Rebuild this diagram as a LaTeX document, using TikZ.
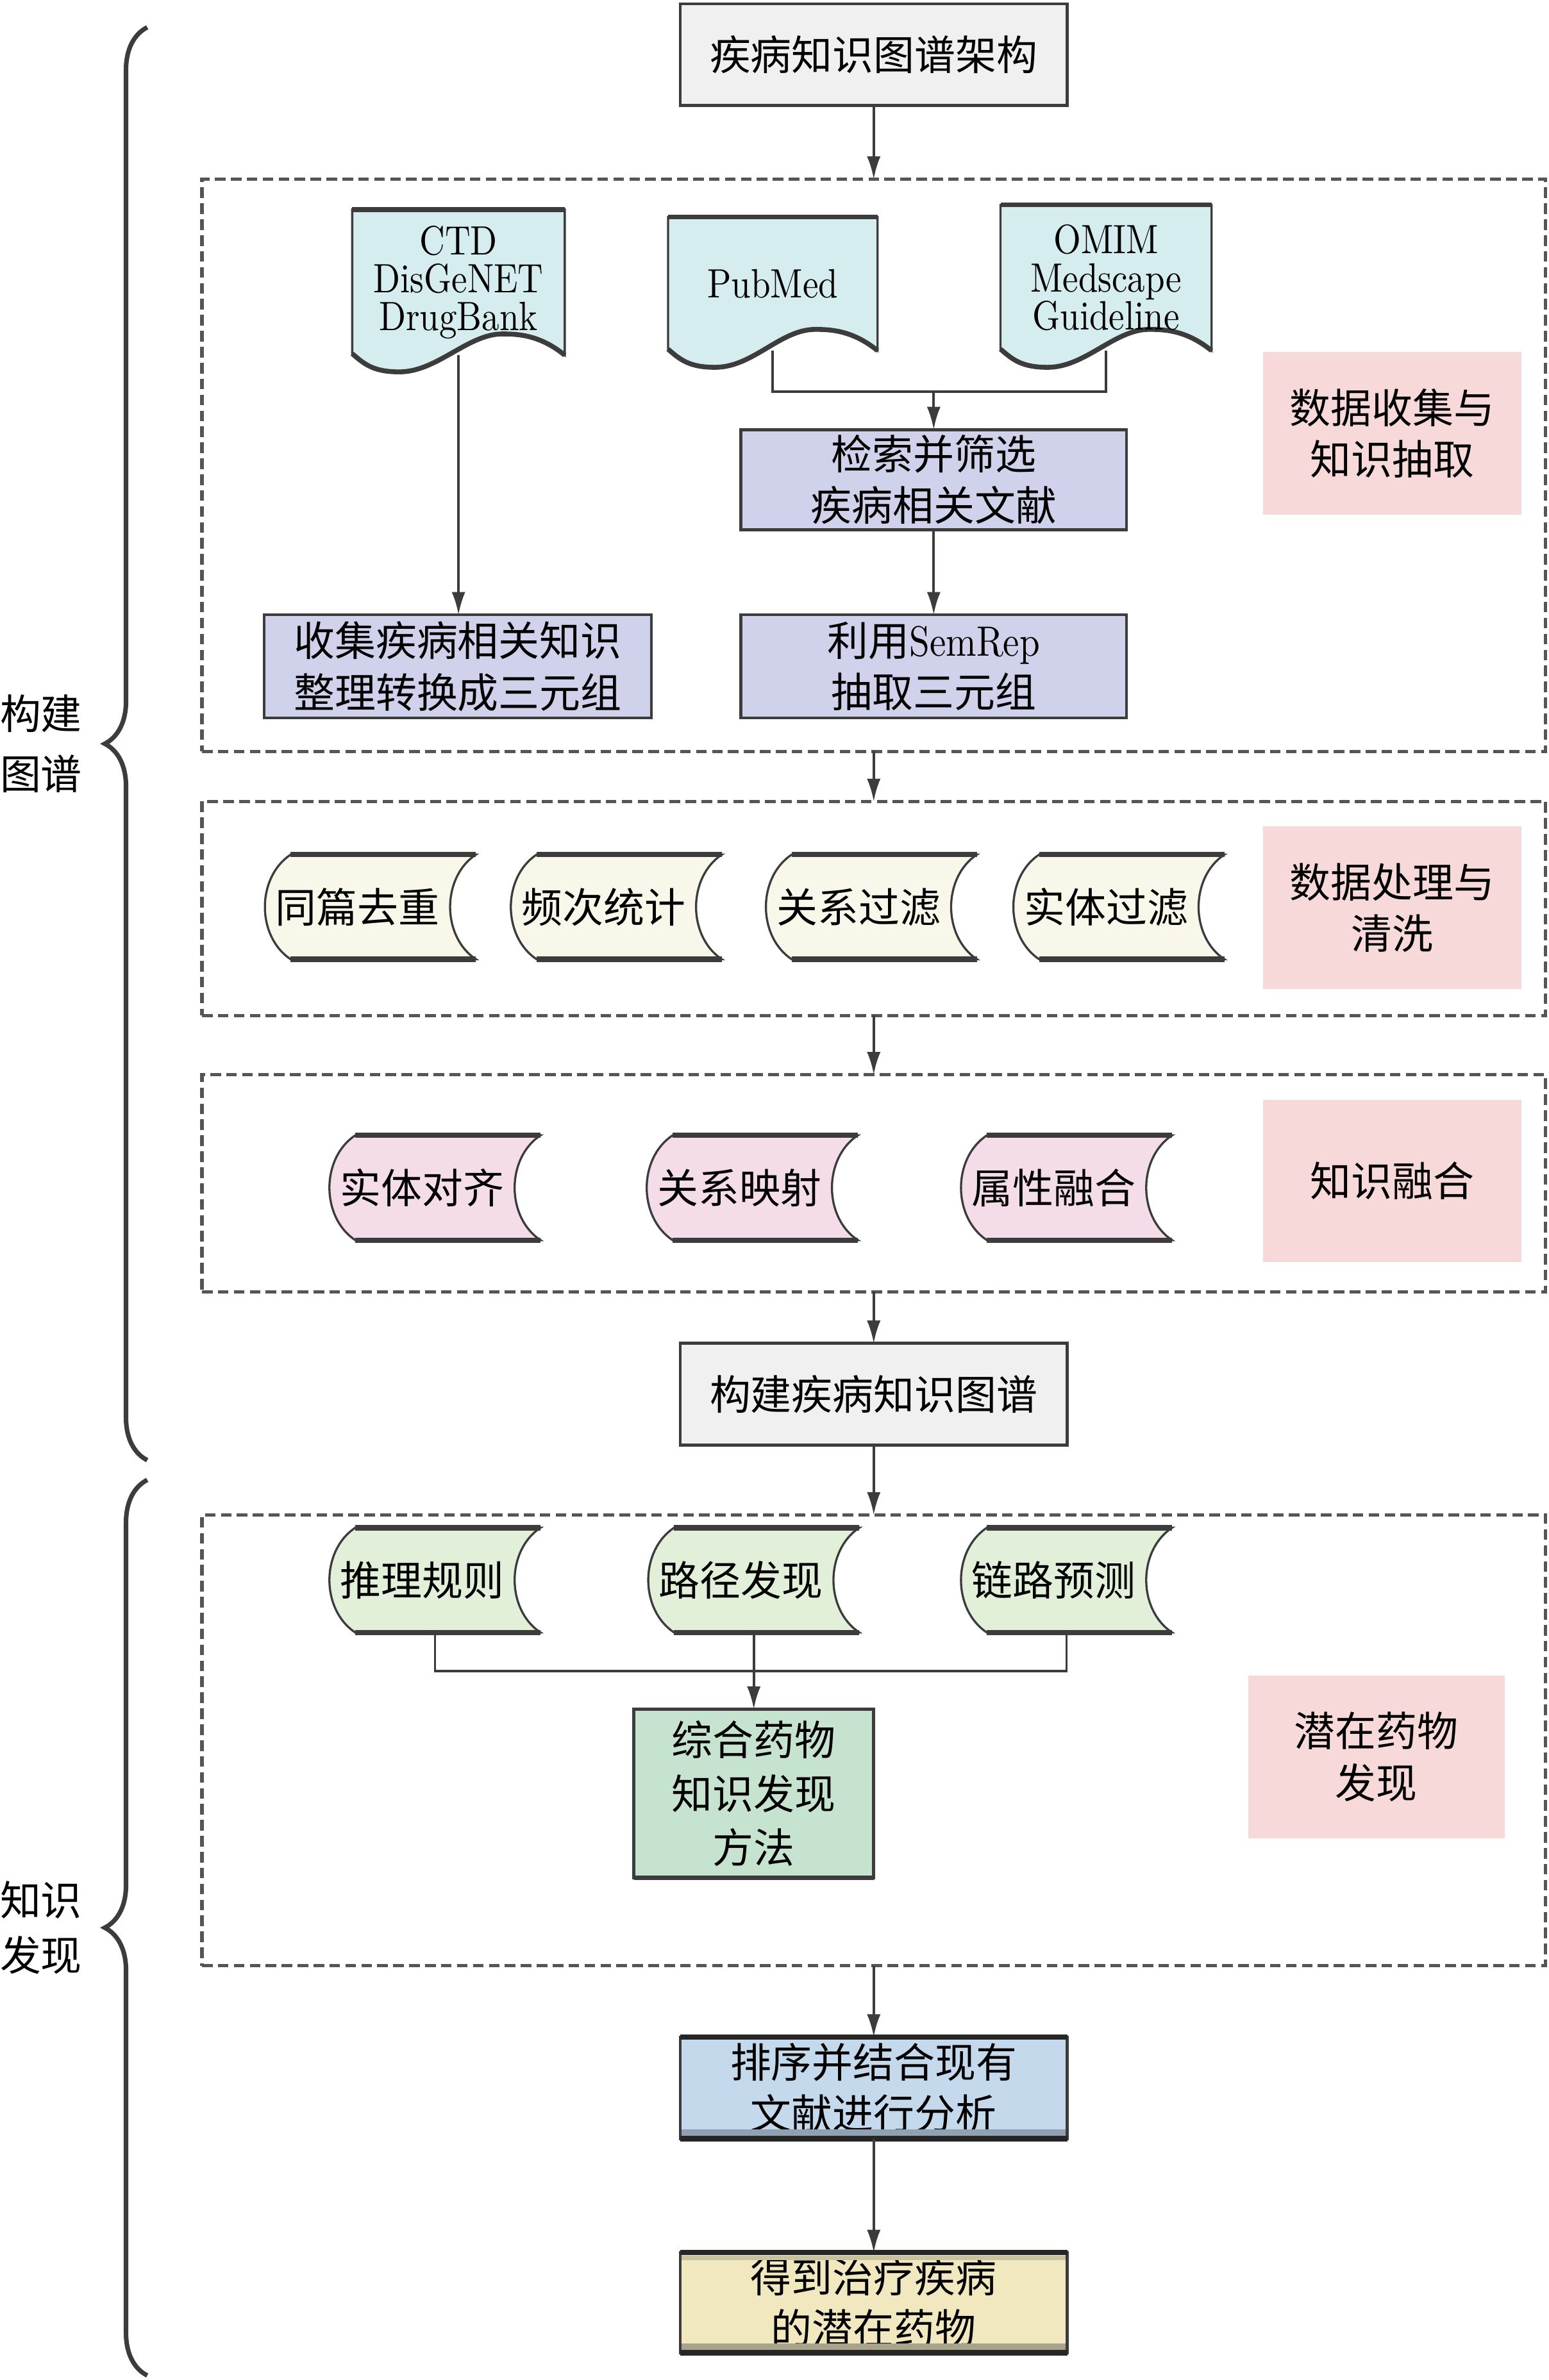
\documentclass[tikz,border=0pt]{standalone}
\usepackage{fontspec}
\newfontfamily\cjk{Noto Sans CJK SC}
\newfontfamily\latf[Extension=.otf, FakeStretch=0.86]{lmroman10-regular}
\usetikzlibrary{arrows.meta,calc,backgrounds,decorations.pathreplacing}
\definecolor{linec}{HTML}{3C3C3C}
\definecolor{framec}{HTML}{555555}
\definecolor{grayf}{HTML}{F0F0F0}
\definecolor{docf}{HTML}{D6EDF0}
\definecolor{lavf}{HTML}{D0D1EB}
\definecolor{pinkl}{HTML}{F7D9DA}
\definecolor{yelsd}{HTML}{F9F7E9}
\definecolor{pinksd}{HTML}{F4DCE8}
\definecolor{greensd}{HTML}{E2EFD9}
\definecolor{methf}{HTML}{C6E3D0}
\definecolor{bluef}{HTML}{C4D9EC}
\definecolor{resf}{HTML}{F1E8BF}
\definecolor{bandblue}{HTML}{8FA1B2}
\definecolor{bandyel}{HTML}{A8A48C}
\definecolor{bandyeltop}{HTML}{C9C2A2}
\newcommand\sdshape[2]{%
  \filldraw[fill=#2, draw=linec, line width=1.4pt]
   ($(#1.north west)+(17,0)$) -- ($(#1.north east)+(17,0)$)
   .. controls ($(#1.north east)+(-5.7,15)$) and ($(#1.south east)+(-5.7,-15)$) .. ($(#1.south east)+(17,0)$)
   -- ($(#1.south west)+(17,0)$)
   .. controls ($(#1.south west)+(-5.7,-15)$) and ($(#1.north west)+(-5.7,15)$) .. ($(#1.north west)+(17,0)$) -- cycle;
  \draw[line width=3.5pt, draw=linec] ($(#1.north west)+(17,0)$) -- ($(#1.north east)+(17,0)$);
  \draw[line width=3.5pt, draw=linec] ($(#1.south west)+(17,0)$) -- ($(#1.south east)+(17,0)$);
}
\newcommand\docshape[1]{%
  \filldraw[fill=docf, draw=linec, line width=1.4pt]
   (#1.north west) -- (#1.north east) -- (#1.south east)
   .. controls ($(#1.south east)+(-16,-13)$) and ($(#1.south east)+(-30,-14)$) .. ($(#1.south east)+(-41,-14)$)
   .. controls ($(#1.south east)+(-64,-14)$) and ($(#1.south west)+(56,11)$) .. ($(#1.south west)+(31,11)$)
   .. controls ($(#1.south west)+(14,11)$) and ($(#1.south west)+(8,6)$) .. ($(#1.south west)+(0,-1)$)
   -- cycle;
  \draw[line width=3.2pt, draw=linec] (#1.north west) -- (#1.north east);
  \draw[line width=3.2pt, draw=linec] (#1.south east)
   .. controls ($(#1.south east)+(-16,-13)$) and ($(#1.south east)+(-30,-14)$) .. ($(#1.south east)+(-41,-14)$)
   .. controls ($(#1.south east)+(-64,-14)$) and ($(#1.south west)+(56,11)$) .. ($(#1.south west)+(31,11)$)
   .. controls ($(#1.south west)+(14,11)$) and ($(#1.south west)+(8,6)$) .. ($(#1.south west)+(0,-1)$);
}
\begin{document}
\begin{tikzpicture}[x=1pt,y=-1pt,
  every node/.style={inner sep=0pt, outer sep=0pt},
  cn/.style={font=\cjk\fontsize{27}{34}\selectfont, align=center, text=black},
  box/.style={cn, draw=linec, line width=2pt, minimum width=255pt, minimum height=67pt},
  frame/.style={draw=framec, line width=2.2pt, dash pattern=on 7pt off 3.5pt, minimum width=885pt},
  lab/.style={cn, fill=pinkl, minimum width=170pt, minimum height=107pt},
  sd/.style={cn, minimum width=122pt, minimum height=69pt},
  docn/.style={font=\latf\fontsize{27}{25}\selectfont, align=center, minimum width=140pt, minimum height=96pt},
  arr/.style={draw=linec, line width=1.6pt, -{Latex[length=15pt,width=9pt]}},
  ln/.style={draw=linec, line width=1.6pt},
  br/.style={draw=linec, line width=3pt, decorate, decoration={brace, amplitude=28pt, aspect=0.5}}
]
\useasboundingbox (0,0) rectangle (1020,1568);

% top box
\node[box, fill=grayf] (top) at (575.5,36) {疾病知识图谱架构};

% frame 1
\node[frame] (f1) at (575.5,306.5) [minimum height=377pt] {};
\node[docn] (ctd) at (302,186) {CTD\\DisGeNET\\DrugBank};
\node[docn, minimum width=138pt, minimum height=88pt] (pub) at (509,187) {PubMed};
\node[docn, minimum width=139pt] (omim) at (728.5,183) {OMIM\\Medscape\\Guideline};
\node[box, fill=lavf, minimum width=254pt, minimum height=66pt] (search) at (615,316) {检索并筛选\\疾病相关文献};
\node[box, fill=lavf, minimum width=254pt, minimum height=68pt] (semrep) at (615,439) {利用{\latf\fontsize{28}{34}\selectfont SemRep}\\抽取三元组};
\node[box, fill=lavf, minimum height=68pt] (collect) at (301.5,439) {收集疾病相关知识\\整理转换成三元组};
\node[lab] (l1) at (917,285.5) {数据收集与\\知识抽取};

% frame 2
\node[frame] (f2) at (575.5,598.5) [minimum height=141pt] {};
\node[sd] (s1) at (235.5,597.5) {同篇去重};
\node[sd] (s2) at (397.5,597.5) {频次统计};
\node[sd] (s3) at (565.5,597.5) {关系过滤};
\node[sd] (s4) at (728.5,597.5) {实体过滤};
\node[lab] (l2) at (917,598) {数据处理与\\清洗};

% frame 3
\node[frame] (f3) at (575.5,779.5) [minimum height=143pt] {};
\node[sd] (p1) at (278,782.5) {实体对齐};
\node[sd] (p2) at (487,782.5) {关系映射};
\node[sd] (p3) at (694,782.5) {属性融合};
\node[lab] (l3) at (917,778) {知识融合};

% build box
\node[box, fill=grayf] (build) at (575.5,918.5) {构建疾病知识图谱};

% frame 4
\node[frame] (f4) at (575.5,1146.5) [minimum height=297pt] {};
\node[sd] (g1) at (278,1041) {推理规则};
\node[sd] (g2) at (488,1041) {路径发现};
\node[sd] (g3) at (694,1041) {链路预测};
\node[box, fill=methf, minimum width=158pt, minimum height=111pt, font=\cjk\fontsize{27}{35.5}\selectfont] (method) at (496.5,1181.5) {综合药物\\知识发现\\方法};
\node[lab, minimum width=169pt] (l4) at (906.5,1157.5) {潜在药物\\发现};

% bottom boxes
\node[box, fill=bluef] (sort) at (575.5,1375.5) {排序并结合现有\\文献进行分析};
\node[box, fill=resf, minimum height=66pt] (result) at (575.5,1517) {得到治疗疾病\\的潜在药物};

% side labels
\node[cn, font=\cjk\fontsize{27}{40}\selectfont] (lab1) at (27,490) {构建\\图谱};
\node[cn, font=\cjk\fontsize{27}{36}\selectfont] (lab2) at (27,1270) {知识\\发现};

% braces
\coordinate (b1a) at (97,962);
\coordinate (b1b) at (97,18);
\coordinate (b2a) at (97,1565);
\coordinate (b2b) at (97,975);
\draw[br] (b1a) -- (b1b);
\draw[br] (b2a) -- (b2b);

% shapes on background
\begin{pgfonlayer}{background}
\docshape{ctd}
\docshape{pub}
\docshape{omim}
\sdshape{s1}{yelsd}
\sdshape{s2}{yelsd}
\sdshape{s3}{yelsd}
\sdshape{s4}{yelsd}
\sdshape{p1}{pinksd}
\sdshape{p2}{pinksd}
\sdshape{p3}{pinksd}
\sdshape{g1}{greensd}
\sdshape{g2}{greensd}
\sdshape{g3}{greensd}
\end{pgfonlayer}

% extra edge bands
\draw[line width=3.5pt, draw=black!85] (sort.north west) -- (sort.north east);
\draw[line width=3.5pt, draw=black!85] (sort.south west) -- (sort.south east);
\fill[bandblue] ($(sort.south west)+(1,-6)$) rectangle ($(sort.south east)+(-1,-2)$);
\draw[line width=3.5pt, draw=black!85] (result.north west) -- (result.north east);
\draw[line width=3.5pt, draw=black!85] (result.south west) -- (result.south east);
\fill[bandyel] ($(result.south west)+(1,-6)$) rectangle ($(result.south east)+(-1,-2)$);
\fill[bandyeltop] ($(result.north west)+(1,2)$) rectangle ($(result.north east)+(-1,5)$);
\draw[line width=3pt, draw=linec] (method.south west) -- (method.south east);

% connectors
\draw[arr] (top.south) -- (f1.north);
\draw[arr] (ctd.south) -- (ctd.south |- collect.north);
\coordinate (j1) at (615,258);
\draw[ln] (pub.south) |- (j1) -| (omim.south);
\draw[arr] (j1) -- (search.north);
\draw[arr] (search.south) -- (semrep.north);
\draw[arr] (f1.south) -- (f2.north);
\draw[arr] (f2.south) -- (f3.north);
\draw[arr] (f3.south) -- (build.north);
\draw[arr] (build.south) -- (f4.north);
\coordinate (g1s) at ($(g1.south)+(8.5,0)$);
\coordinate (g2s) at ($(g2.south)+(8.5,0)$);
\coordinate (g3s) at ($(g3.south)+(8.5,0)$);
\coordinate (j2) at (496.5,1101);
\draw[ln] (g1s) |- (j2) -| (g3s);
\draw[arr] (g2s) -- (g2s |- method.north);
\draw[arr] (f4.south) -- (sort.north);
\draw[arr] (sort.south) -- (result.north);
\end{tikzpicture}
\end{document}
